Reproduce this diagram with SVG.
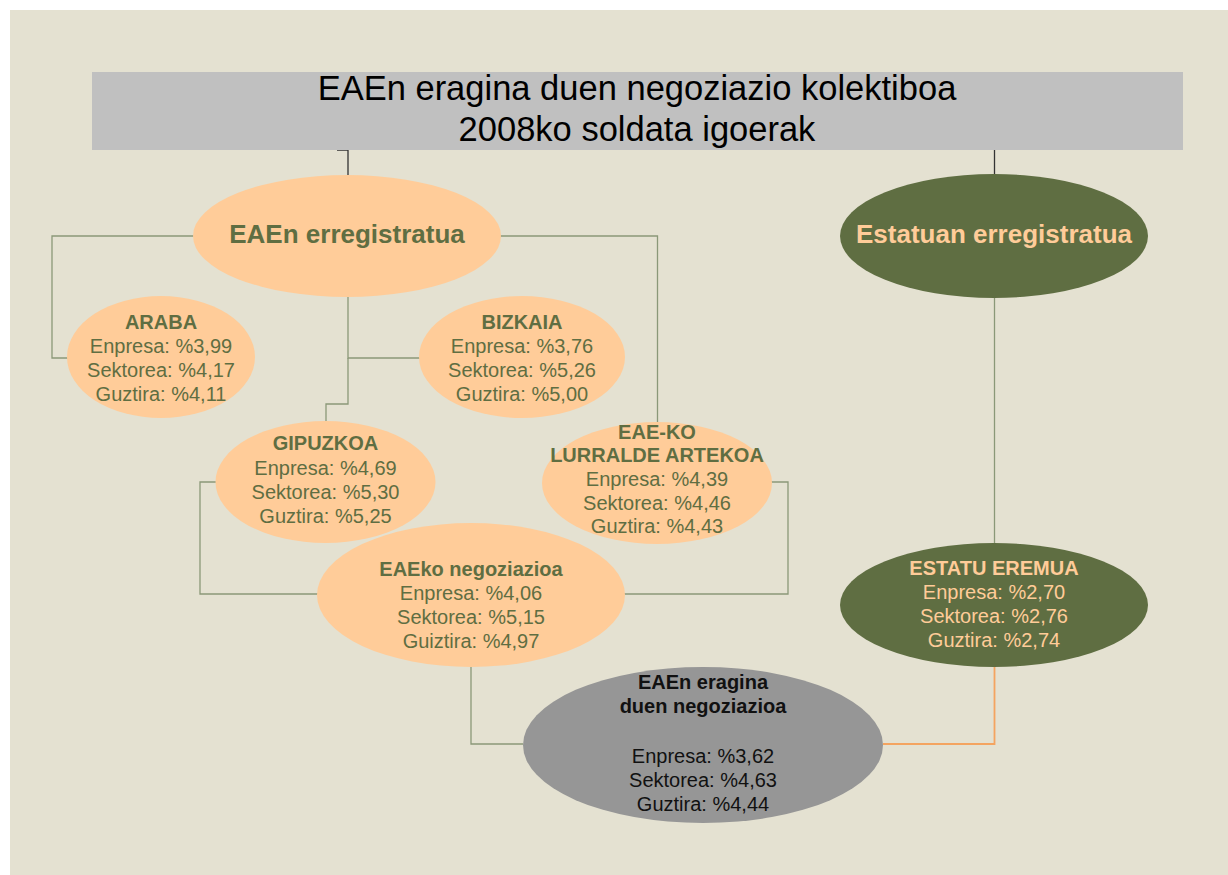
<svg xmlns="http://www.w3.org/2000/svg" width="1228" height="875" viewBox="0 0 1228 875">
<style>
.t{font-family:"Liberation Sans",Arial,sans-serif;text-anchor:middle}
.g{fill:#5F6E42;font-size:20px}
.p{fill:#FFCC99;font-size:20px}
.k{fill:#111;font-size:20px}
.b{font-weight:bold}
.big{font-size:26px}
.ttl{font-size:34.5px;fill:#000}
.ln{fill:none;stroke:#8A9878;stroke-width:1.3}
.dk{fill:none;stroke:#333;stroke-width:1.3}
.or{fill:none;stroke:#F4A460;stroke-width:1.8}
.peach{fill:#FFCC99}
.olive{fill:#5F6E42}
</style>
<rect x="0" y="0" width="1228" height="875" fill="#FFFFFF"/>
<rect x="10" y="10" width="1218" height="865" fill="#E4E1D1"/>
<g id="connectors">
<path class="dk" d="M337 150 H348 V176"/>
<path class="dk" d="M994.5 150 V176"/>
<path class="ln" d="M194 236 H52 V358 H68"/>
<path class="ln" d="M500 236 H657.5 V423"/>
<path class="ln" d="M348 297 V358 H421"/>
<path class="ln" d="M348 358 V404 H326 V421"/>
<path class="ln" d="M216 482 H200 V594 H318"/>
<path class="ln" d="M771 482 H788 V594 H624"/>
<path class="ln" d="M471 667 V744 H523"/>
<path class="ln" d="M994.5 298 V544"/>
<path class="dk" d="M994.5 604 V616"/>
<path class="or" d="M883 744 H994.5 V667"/>
</g>
<g id="title">
<rect x="92" y="72" width="1091" height="78" fill="#C0C0C0"/>
<text class="t ttl" x="637" y="100">EAEn eragina duen negoziazio kolektiboa</text>
<text class="t ttl" x="637" y="141">2008ko soldata igoerak</text>
</g>
<g id="eaen-erregistratua">
<ellipse class="peach" cx="347" cy="236" rx="154" ry="61"/>
<text class="t g b big" x="347" y="243">EAEn erregistratua</text>
</g>
<g id="estatuan-erregistratua">
<ellipse class="olive" cx="994" cy="236" rx="154" ry="62"/>
<text class="t p b big" x="994" y="243">Estatuan erregistratua</text>
</g>
<g id="araba">
<ellipse class="peach" cx="161" cy="357" rx="94" ry="61"/>
<text class="t g b" x="161" y="329">ARABA</text>
<text class="t g" x="161" y="353">Enpresa: %3,99</text>
<text class="t g" x="161" y="377">Sektorea: %4,17</text>
<text class="t g" x="161" y="401">Guztira: %4,11</text>
</g>
<g id="bizkaia">
<ellipse class="peach" cx="522" cy="357" rx="103" ry="61"/>
<text class="t g b" x="522" y="329">BIZKAIA</text>
<text class="t g" x="522" y="353">Enpresa: %3,76</text>
<text class="t g" x="522" y="377">Sektorea: %5,26</text>
<text class="t g" x="522" y="401">Guztira: %5,00</text>
</g>
<g id="gipuzkoa">
<ellipse class="peach" cx="325.5" cy="482" rx="110" ry="61"/>
<text class="t g b" x="325.5" y="450">GIPUZKOA</text>
<text class="t g" x="325.5" y="475">Enpresa: %4,69</text>
<text class="t g" x="325.5" y="499">Sektorea: %5,30</text>
<text class="t g" x="325.5" y="523">Guztira: %5,25</text>
</g>
<g id="eae-ko-lurralde-artekoa">
<ellipse class="peach" cx="657" cy="483" rx="115" ry="61"/>
<text class="t g b" x="657" y="439">EAE-KO</text>
<text class="t g b" x="657" y="462">LURRALDE ARTEKOA</text>
<text class="t g" x="657" y="486">Enpresa: %4,39</text>
<text class="t g" x="657" y="510">Sektorea: %4,46</text>
<text class="t g" x="657" y="533">Guztira: %4,43</text>
</g>
<g id="eaeko-negoziazioa">
<ellipse class="peach" cx="471" cy="595" rx="154" ry="72"/>
<text class="t g b" x="471" y="576">EAEko negoziazioa</text>
<text class="t g" x="471" y="600">Enpresa: %4,06</text>
<text class="t g" x="471" y="624">Sektorea: %5,15</text>
<text class="t g" x="471" y="648">Guiztira: %4,97</text>
</g>
<g id="estatu-eremua">
<ellipse class="olive" cx="994" cy="605" rx="154" ry="62"/>
<text class="t p b" x="994" y="575">ESTATU EREMUA</text>
<text class="t p" x="994" y="599">Enpresa: %2,70</text>
<text class="t p" x="994" y="623">Sektorea: %2,76</text>
<text class="t p" x="994" y="647">Guztira: %2,74</text>
</g>
<g id="eaen-eragina-duen-negoziazioa">
<ellipse cx="703" cy="745" rx="180" ry="78" fill="#969696"/>
<text class="t k b" x="703" y="689">EAEn eragina</text>
<text class="t k b" x="703" y="713">duen negoziazioa</text>
<text class="t k" x="703" y="763">Enpresa: %3,62</text>
<text class="t k" x="703" y="787">Sektorea: %4,63</text>
<text class="t k" x="703" y="811">Guztira: %4,44</text>
</g>
</svg>
